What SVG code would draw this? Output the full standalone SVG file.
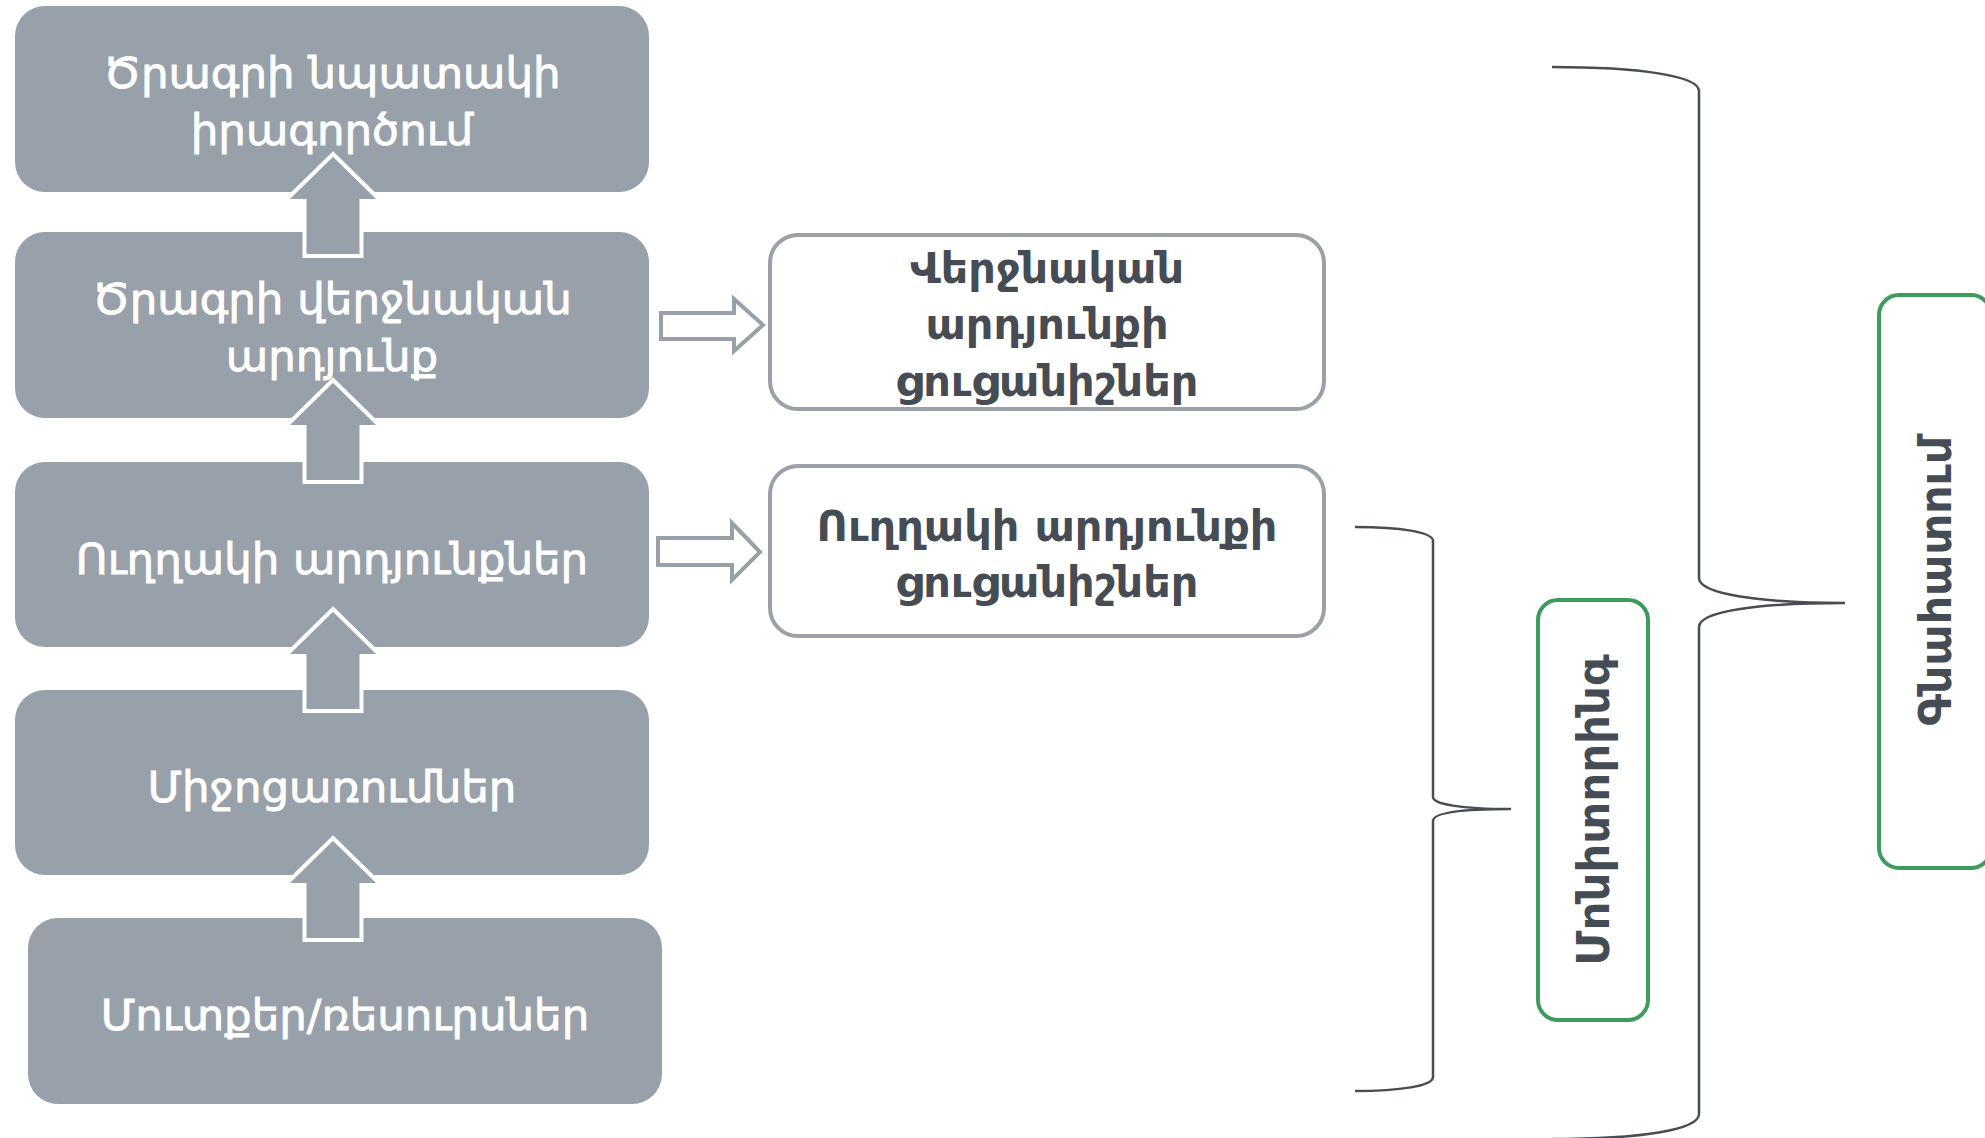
<svg xmlns="http://www.w3.org/2000/svg" width="1985" height="1138" viewBox="0 0 1985 1138">
<style>
.lbox{fill:#98a0a9;}
.ltxt{fill:#ffffff;stroke:#ffffff;stroke-width:0.9;font-family:"DejaVu Sans","Noto Sans",sans-serif;font-size:43.5px;font-weight:normal;text-anchor:middle;}
.mbox{fill:#ffffff;stroke:#9aa1a9;stroke-width:4;}
.mtxt{fill:#464c53;font-family:"DejaVu Sans","Noto Sans",sans-serif;font-size:43px;font-weight:bold;text-anchor:middle;}
.varr{fill:#98a0a9;stroke:#ffffff;stroke-width:4;stroke-linejoin:miter;}
.harr{fill:#ffffff;stroke:#98a0a9;stroke-width:4;stroke-linejoin:miter;}
.brace{fill:none;stroke:#474d54;stroke-width:2.5;}
.gbox{fill:#ffffff;stroke:#3f9a5e;stroke-width:4;}
.rtxt{fill:#464c53;font-family:"DejaVu Sans","Noto Sans",sans-serif;font-size:45px;font-weight:bold;text-anchor:middle;}
</style>
<rect width="1985" height="1138" fill="#ffffff"/>
<g id="node-goal">
<rect class="lbox" x="15" y="6" width="634" height="186" rx="30"/>
<text class="ltxt" x="332" y="88">Ծրագրի նպատակի</text>
<text class="ltxt" x="332" y="145">իրագործում</text>
</g>
<g id="node-final-result">
<rect class="lbox" x="15" y="232" width="634" height="186" rx="30"/>
<text class="ltxt" x="332" y="314">Ծրագրի վերջնական</text>
<text class="ltxt" x="332" y="371">արդյունք</text>
</g>
<g id="node-direct-results">
<rect class="lbox" x="15" y="462" width="634" height="185" rx="30"/>
<text class="ltxt" x="332" y="574">Ուղղակի արդյունքներ</text>
</g>
<g id="node-activities">
<rect class="lbox" x="15" y="690" width="634" height="185" rx="30"/>
<text class="ltxt" x="332" y="802">Միջոցառումներ</text>
</g>
<g id="node-inputs">
<rect class="lbox" x="28" y="918" width="634" height="186" rx="30"/>
<text class="ltxt" x="345" y="1030">Մուտքեր/ռեսուրսներ</text>
</g>
<g id="node-final-indicators">
<rect class="mbox" x="770" y="235" width="554" height="174" rx="28"/>
<text class="mtxt" x="1047" y="283">Վերջնական</text>
<text class="mtxt" x="1047" y="339">արդյունքի</text>
<text class="mtxt" x="1047" y="396">ցուցանիշներ</text>
</g>
<g id="node-direct-indicators">
<rect class="mbox" x="770" y="466" width="554" height="170" rx="28"/>
<text class="mtxt" x="1047" y="541">Ուղղակի արդյունքի</text>
<text class="mtxt" x="1047" y="597">ցուցանիշներ</text>
</g>
<g id="node-monitoring">
<rect class="gbox" x="1538" y="600" width="110" height="420" rx="20"/>
<text class="rtxt" x="1609" y="810" transform="rotate(-90 1609 810)">Մոնիտորինգ</text>
</g>
<g id="node-evaluation">
<rect class="gbox" x="1879" y="295" width="112" height="573" rx="20"/>
<text class="rtxt" x="1951" y="581" transform="rotate(-90 1951 581)" style="font-size:44px">Գնահատում</text>
</g>
<g id="connectors">
<path class="varr" d="M333,154 L381,201 H361.5 V256 H304.5 V201 H285 Z"/>
<path class="varr" d="M333,380 L381,427 H361.5 V482 H304.5 V427 H285 Z"/>
<path class="varr" d="M333,609 L381,656 H361.5 V711 H304.5 V656 H285 Z"/>
<path class="varr" d="M333,838 L381,885 H361.5 V940 H304.5 V885 H285 Z"/>
<path class="harr" d="M661,313 H734 V299 L763,325 L734,351 V339 H661 Z"/>
<path class="harr" d="M658,538 H732 V523 L760,552 L732,580 V565 H658 Z"/>
<path class="brace" d="M1355,527 C1400,527 1433,532 1433,541 L1433,797 C1433,804 1460,809 1511,809 C1460,809 1433,813 1433,821 L1433,1077 C1433,1086 1400,1091 1355,1091"/>
<path class="brace" d="M1552,67 C1640,67 1699,76 1699,91 L1699,578 C1699,594 1760,603 1845,603 C1760,603 1699,611 1699,627 L1699,1114 C1699,1130 1640,1139 1552,1139"/>
</g>
</svg>
